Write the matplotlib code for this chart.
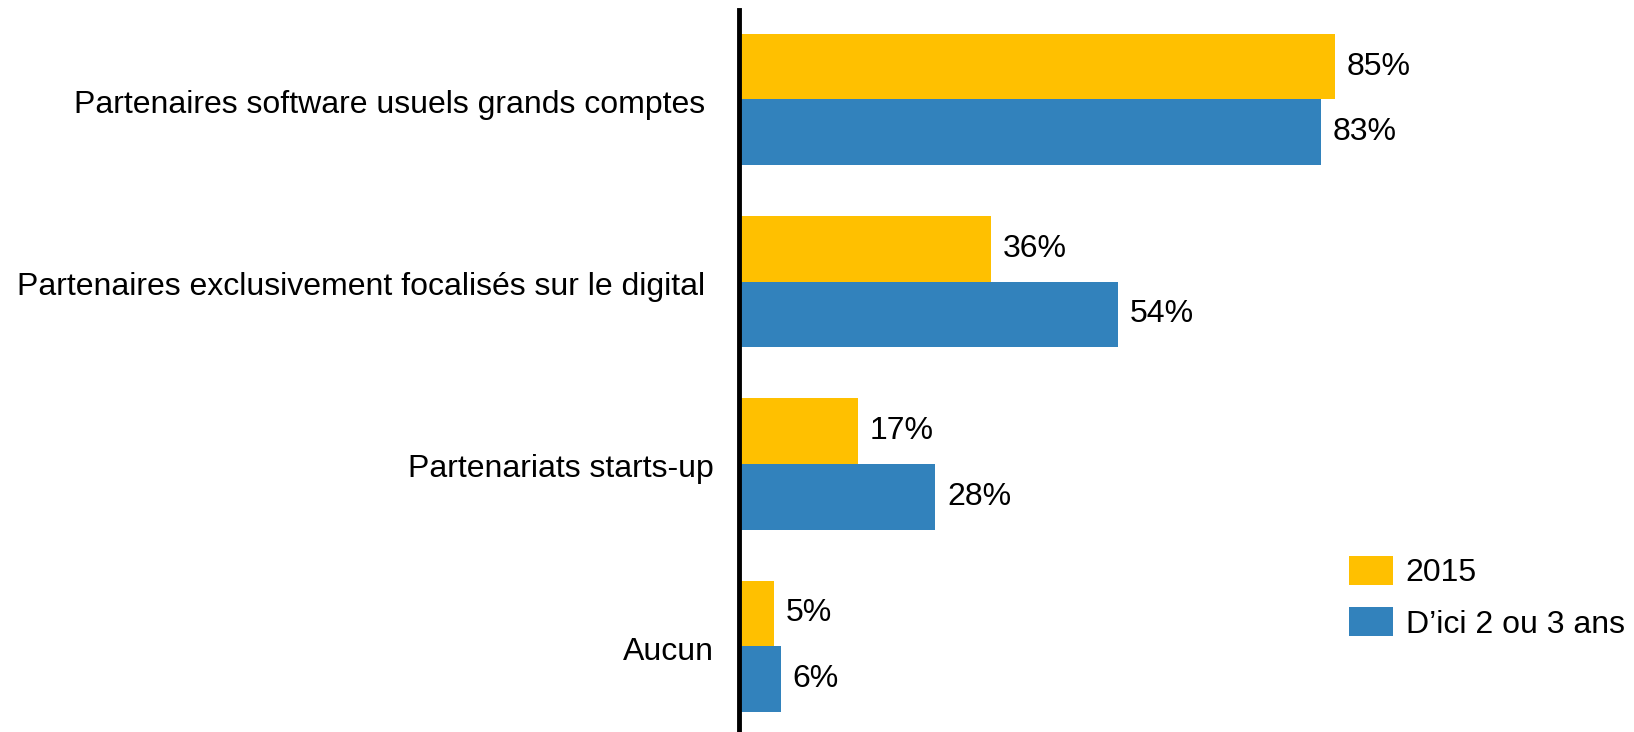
import numpy as np
import matplotlib.pyplot as plt

categories = ['Partenaires software usuels grands comptes ',
              'Partenaires exclusivement focalisés sur le digital ',
              'Partenariats starts-up',
              'Aucun']
series_names = ['2015', 'D\u2019ici 2 ou 3 ans']
values_2015 = [85, 36, 17, 5]
values_future = [83, 54, 28, 6]
colors = ['#FFC000', '#3282BC']

plt.rcParams['font.family'] = ['Liberation Sans', 'DejaVu Sans']

W, H = 1634, 732
fig = plt.figure(figsize=(W / 100, H / 100), dpi=100)
ax = fig.add_axes([739 / W, 0, 1 - 739 / W, 1 - 10 / H])

y = np.arange(len(categories))
h = 0.36
bars1 = ax.barh(y - h / 2 - 0.01, values_2015, height=h, color=colors[0], label=series_names[0])
bars2 = ax.barh(y + h / 2 - 0.01, values_future, height=h, color=colors[1], label=series_names[1])

for bars in (bars1, bars2):
    for b in bars:
        ax.annotate('%d%%' % b.get_width(), (b.get_width(), b.get_y() + b.get_height() / 2),
                    xytext=(8.5, 0), textcoords='offset points', va='center', ha='left',
                    fontsize=23)

ax.set_xlim(0, (W - 739) / 7.01)
ax.set_ylim(3.46, -0.5)
ax.set_yticks(y)
ax.set_yticklabels(categories, fontsize=23)
ax.tick_params(axis='y', length=0, pad=18)
ax.set_xticks([])
for s in ['top', 'right', 'bottom']:
    ax.spines[s].set_visible(False)
ax.spines['left'].set_linewidth(3.5)

ax.legend(loc='upper left', bbox_to_anchor=(1349 / W, 1 - 556 / H), bbox_transform=fig.transFigure,
          frameon=False, fontsize=23, borderpad=0, borderaxespad=0,
          handlelength=1.38, handleheight=1.0, handletextpad=0.4, labelspacing=0.6)

fig.savefig('out.png', dpi=100)
